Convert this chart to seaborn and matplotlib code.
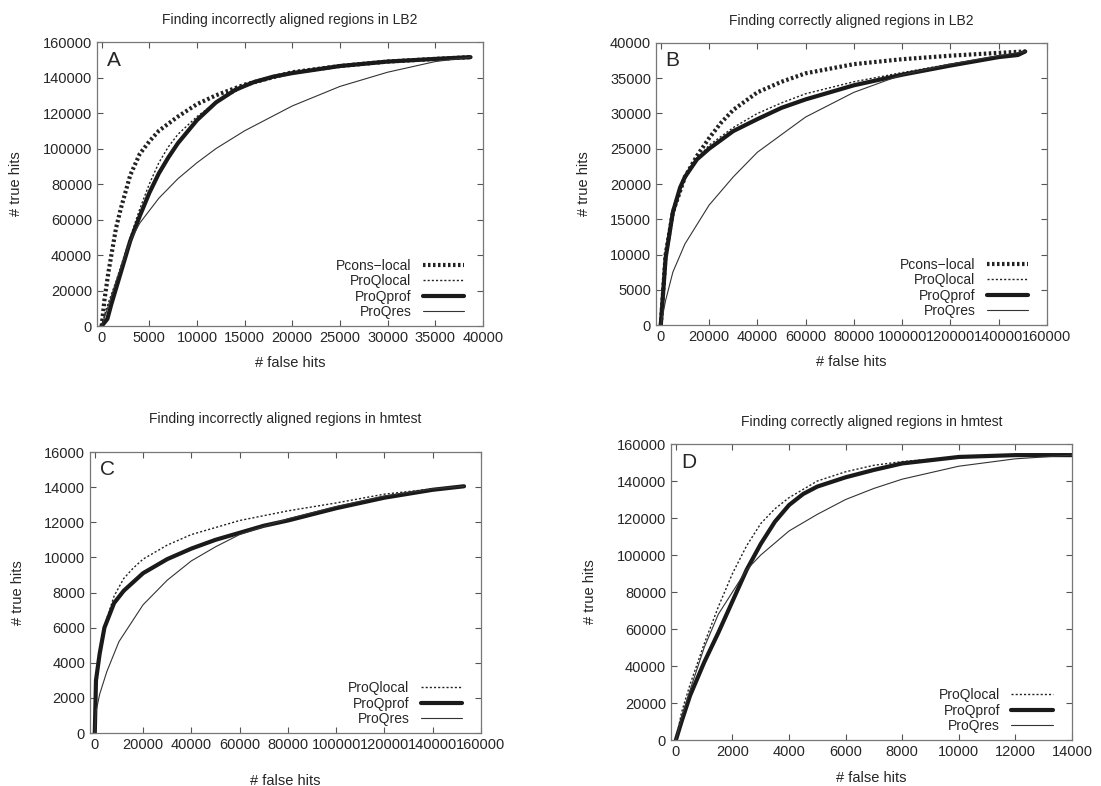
import numpy as np
import matplotlib
matplotlib.use("Agg")
import matplotlib.pyplot as plt
import seaborn as sns
import pandas as pd

# ---- data ----
# panel A: incorrectly aligned regions in LB2
a_pcons_x = [0, 300, 700, 1500, 2000, 3000, 4000, 5000, 6000, 8000, 10000, 12000, 15000, 20000, 25000, 30000, 35000, 38700]
a_pcons_y = [0, 15000, 30000, 55000, 66000, 85000, 97000, 104000, 110000, 118000, 125000, 130000, 136000, 143000, 146500, 149000, 150500, 151500]
a_local_x = [0, 500, 1500, 3000, 4000, 5000, 6000, 7000, 8000, 10000, 12000, 15000, 20000, 25000, 30000, 38700]
a_local_y = [0, 10000, 25000, 50000, 66000, 80000, 92000, 101000, 108000, 118000, 126000, 135000, 143000, 146500, 149000, 151500]
a_prof_x = [0, 600, 1000, 2000, 3000, 4000, 5000, 6000, 7000, 8000, 10000, 12000, 14000, 16000, 18000, 20000, 25000, 30000, 35000, 38700]
a_prof_y = [0, 4000, 12000, 30000, 48000, 62000, 75000, 86000, 95000, 103000, 116000, 126000, 133000, 137500, 140500, 142500, 146500, 149000, 150500, 151500]
a_res_x = [0, 500, 1500, 3000, 4000, 6000, 8000, 10000, 12000, 15000, 20000, 25000, 30000, 35000, 38700]
a_res_y = [0, 8000, 25000, 48000, 58000, 72000, 83000, 92000, 100000, 110000, 124000, 135000, 143000, 149000, 151500]

# panel B: correctly aligned regions in LB2
b_pcons_x = [0, 2000, 5000, 10000, 15000, 20000, 25000, 30000, 40000, 50000, 60000, 80000, 100000, 120000, 140000, 151000]
b_pcons_y = [0, 10000, 16000, 21000, 24000, 26500, 28700, 30500, 33000, 34500, 35700, 37000, 37700, 38200, 38600, 38800]
b_local_x = [0, 2000, 5000, 10000, 15000, 20000, 30000, 40000, 50000, 60000, 80000, 100000, 120000, 140000, 151000]
b_local_y = [0, 10000, 16500, 21000, 23500, 25500, 28000, 30000, 31500, 32800, 34500, 35800, 37000, 38000, 38800]
b_prof_x = [0, 2000, 5000, 8000, 10000, 15000, 20000, 30000, 40000, 50000, 60000, 80000, 100000, 120000, 140000, 148000, 151000]
b_prof_y = [0, 9500, 16000, 19500, 21000, 23500, 25000, 27500, 29200, 30800, 32000, 34000, 35500, 36800, 38000, 38300, 38800]
b_res_x = [0, 2000, 5000, 10000, 20000, 30000, 40000, 50000, 60000, 80000, 100000, 120000, 140000, 151000]
b_res_y = [0, 3500, 7500, 11500, 17000, 21000, 24500, 27000, 29500, 33000, 35500, 37000, 38200, 38800]

# panel C: incorrectly aligned regions in hmtest
c_local_x = [0, 500, 2000, 4000, 8000, 12000, 16000, 20000, 30000, 40000, 50000, 60000, 80000, 100000, 120000, 140000, 153000]
c_local_y = [0, 3000, 4600, 6100, 7800, 8800, 9400, 9900, 10700, 11300, 11700, 12100, 12650, 13100, 13600, 13900, 14050]
c_prof_x = [0, 500, 2000, 4000, 8000, 12000, 16000, 20000, 30000, 40000, 50000, 60000, 70000, 80000, 100000, 120000, 140000, 153000]
c_prof_y = [0, 3000, 4500, 6000, 7400, 8100, 8600, 9100, 9900, 10500, 11000, 11400, 11800, 12100, 12800, 13400, 13850, 14050]
c_res_x = [0, 500, 2000, 5000, 10000, 20000, 30000, 40000, 50000, 60000, 80000, 100000, 120000, 140000, 153000]
c_res_y = [0, 1200, 2200, 3500, 5200, 7300, 8700, 9800, 10600, 11300, 12200, 12900, 13500, 13900, 14050]

# panel D: correctly aligned regions in hmtest
d_local_x = [0, 200, 500, 1000, 1500, 2000, 2500, 3000, 3500, 4000, 5000, 6000, 7000, 8000, 10000, 12000, 14000]
d_local_y = [0, 15000, 30000, 52000, 72000, 90000, 105000, 117000, 125000, 131000, 140000, 145000, 148500, 150500, 153000, 154000, 154000]
d_prof_x = [0, 200, 500, 1000, 1500, 2000, 2500, 3000, 3500, 4000, 4500, 5000, 6000, 7000, 8000, 10000, 12000, 14000]
d_prof_y = [0, 10000, 24000, 42000, 58000, 75000, 92000, 106000, 118000, 127000, 133000, 137000, 142000, 146000, 149500, 153000, 154000, 154000]
d_res_x = [0, 200, 500, 1000, 1500, 2000, 2500, 3000, 4000, 5000, 6000, 7000, 8000, 10000, 12000, 14000]
d_res_y = [0, 12000, 27000, 50000, 68000, 80000, 92000, 100000, 113000, 122000, 130000, 136000, 141000, 148000, 152000, 154000]

styles = {
    "Pcons\u2212local": dict(lw=3.0, ls=(0, (0.6, 0.6)), color="#222222"),
    "ProQlocal": dict(lw=1.0, ls=(0, (1.5, 1.5)), color="#222222"),
    "ProQprof": dict(lw=3.0, ls="-", color="#1a1a1a"),
    "ProQres": dict(lw=0.8, ls="-", color="#333333"),
}

panels = [
    dict(letter="A", title="Finding incorrectly aligned regions in LB2",
         rect=[0.088, 0.5852, 0.3506, 0.3613], xlim=40000, xstep=5000, ylim=160000, ystep=20000,
         series=[("Pcons\u2212local", a_pcons_x, a_pcons_y), ("ProQlocal", a_local_x, a_local_y),
                 ("ProQprof", a_prof_x, a_prof_y), ("ProQres", a_res_x, a_res_y)], xpad=8, tpad=13),
    dict(letter="B", title="Finding correctly aligned regions in LB2",
         rect=[0.5958, 0.5865, 0.3551, 0.3588], xlim=160000, xstep=20000, ylim=40000, ystep=5000,
         series=[("Pcons\u2212local", b_pcons_x, b_pcons_y), ("ProQlocal", b_local_x, b_local_y),
                 ("ProQprof", b_prof_x, b_prof_y), ("ProQres", b_res_x, b_res_y)], xpad=8, tpad=13),
    dict(letter="C", title="Finding incorrectly aligned regions in hmtest",
         rect=[0.0817, 0.0674, 0.3551, 0.3575], xlim=160000, xstep=20000, ylim=16000, ystep=2000,
         series=[("ProQlocal", c_local_x, c_local_y), ("ProQprof", c_prof_x, c_prof_y),
                 ("ProQres", c_res_x, c_res_y)], xpad=16, tpad=21),
    dict(letter="D", title="Finding correctly aligned regions in hmtest",
         rect=[0.6094, 0.0585, 0.3642, 0.3766], xlim=14000, xstep=2000, ylim=160000, ystep=20000,
         series=[("ProQlocal", d_local_x, d_local_y), ("ProQprof", d_prof_x, d_prof_y),
                 ("ProQres", d_res_x, d_res_y)], xpad=9, tpad=13),
]

sns.set_style("ticks")
plt.rcParams["font.family"] = ["Liberation Sans", "DejaVu Sans"]

fig = plt.figure(figsize=(11.01, 7.86), dpi=100)

for p in panels:
    ax = fig.add_axes(p["rect"])
    for name, xs, ys in p["series"]:
        df = pd.DataFrame({"x": xs, "y": ys})
        st = styles[name]
        sns.lineplot(data=df, x="x", y="y", ax=ax, label=name, color=st["color"],
                     linewidth=st["lw"], linestyle=st["ls"], sort=False, estimator=None)
    ax.set_xlim(-500 * p["xlim"] / 40000, p["xlim"])
    ax.set_ylim(0, p["ylim"])
    ax.set_xticks(np.arange(0, p["xlim"] + 1, p["xstep"]))
    ax.set_yticks(np.arange(0, p["ylim"] + 1, p["ystep"]))
    ax.tick_params(direction="in", top=True, right=True, labelsize=10.5, length=4, color="#555555")
    for s in ax.spines.values():
        s.set_color("#777777")
        s.set_linewidth(0.9)
    ax.set_xlabel("# false hits", fontsize=10.5, labelpad=p["xpad"])
    ax.set_ylabel("# true hits", fontsize=10.5, labelpad=14)
    ax.set_title(p["title"], fontsize=10, pad=p["tpad"])
    ax.text(0.025, 0.97, p["letter"], transform=ax.transAxes, fontsize=15, va="top", ha="left")
    ax.legend(loc="lower right", bbox_to_anchor=(0.97, 0.0), frameon=False, markerfirst=False,
              fontsize=10, handlelength=3.0, labelspacing=0.1, borderaxespad=0.1)

fig.savefig("out.png", dpi=100)
